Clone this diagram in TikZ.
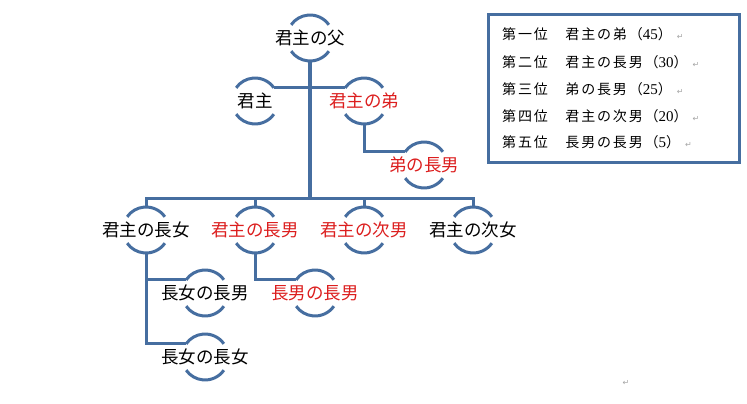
\documentclass[tikz,border=0pt]{standalone}
\usepackage{fontspec}
\setmainfont{Liberation Serif}
\newfontfamily\jp{Noto Sans CJK JP}
\newfontfamily\jpleg[LetterSpace=13]{Noto Sans CJK JP}
\newfontfamily\numf{Liberation Serif}
\newfontfamily\sym{DejaVu Sans}
\definecolor{linec}{RGB}{70,110,160}
\definecolor{redt}{RGB}{220,30,30}
\definecolor{markc}{RGB}{165,165,165}
\newcommand{\retmark}{{\sym\color{markc}\fontsize{8}{8}\selectfont ↵}}
\newcommand{\nm}[1]{{\numf\fontsize{15}{15}\selectfont #1}}
\begin{document}
\begin{tikzpicture}[x=1pt,y=1pt,
  person/.style={font=\jp\fontsize{17.5}{17.5}\selectfont, inner sep=0pt, text=black},
  redperson/.style={person, text=redt},
  arcst/.style={draw=linec, line width=3pt},
  conn/.style={draw=linec, line width=3pt},
  mainconn/.style={draw=linec, line width=4pt},
  legtext/.style={font=\jpleg\fontsize{14}{14}\selectfont, inner sep=0pt, anchor=west, text=black},
  legbox/.style={draw=linec, line width=3pt, fill=white}
]
\useasboundingbox (0,0) rectangle (747,-404);
\fill[white] (0,0) rectangle (747,-404);

% people
\node[person]    (fa)  at (310,-38)  {君主の父};
\node[person]    (k)   at (255,-101) {君主};
\node[redperson] (ot)  at (364,-101) {君主の弟};
\node[redperson] (otc) at (424,-165) {弟の長男};
\node[person]    (d1)  at (146,-230) {君主の長女};
\node[redperson] (s1)  at (255,-230) {君主の長男};
\node[redperson] (s2)  at (364,-230) {君主の次男};
\node[person]    (d2)  at (473,-230) {君主の次女};
\node[person]    (d1s) at (205,-293) {長女の長男};
\node[person]    (d1d) at (205,-357) {長女の長女};
\node[redperson] (s1s) at (315,-293) {長男の長男};

% arcs round each person
\foreach \n in {fa,k,ot,otc,d1,s1,s2,d2,d1s,d1d,s1s}{
  \draw[arcst] (\n.center) ++(35:23pt) arc[start angle=35,end angle=145,radius=23pt];
  \draw[arcst] (\n.center) ++(-35:23pt) arc[start angle=-35,end angle=-145,radius=23pt];
  \coordinate (\n L) at ([shift={(145:23pt)}]\n.center);
  \coordinate (\n R) at ([shift={(35:23pt)}]\n.center);
  \coordinate (\n T) at ([yshift=23pt]\n.center);
  \coordinate (\n B) at ([yshift=-23pt]\n.center);
}
\coordinate (bar) at (310,-198);

% connectors
\draw[conn] (kR) -- (otL);
\draw[conn] (d1T) |- (bar) -| (d2T);
\draw[conn] (s1T) -- (s1T |- bar);
\draw[conn] (s2T) -- (s2T |- bar);
\draw[mainconn] (faB) -- (bar);
\draw[conn] (otB) |- (otcL);
\draw[conn] (d1B) |- (d1dL);
\draw[conn] (d1B |- d1sL) -- (d1sL);
\draw[conn] (s1B) |- (s1sL);

% legend
\node[legbox, minimum width=251pt, minimum height=147pt, inner sep=0pt] (box) at (613.5,-88.5) {};
\node[legtext] (r1) at (502,-34.5)  {第一位　君主の弟（\nm{45}）\hspace{5pt}\retmark};
\node[legtext] (r2) at (502,-62.5)  {第二位　君主の長男（\nm{30}）\hspace{5pt}\retmark};
\node[legtext] (r3) at (502,-89.5)  {第三位　弟の長男（\nm{25}）\hspace{5pt}\retmark};
\node[legtext] (r4) at (502,-116)   {第四位　君主の次男（\nm{20}）\hspace{5pt}\retmark};
\node[legtext] (r5) at (502,-142.5) {第五位　長男の長男（\nm{5}）\hspace{5pt}\retmark};

\node[inner sep=0pt] (ret) at (626,-383) {\retmark};
\end{tikzpicture}
\end{document}
